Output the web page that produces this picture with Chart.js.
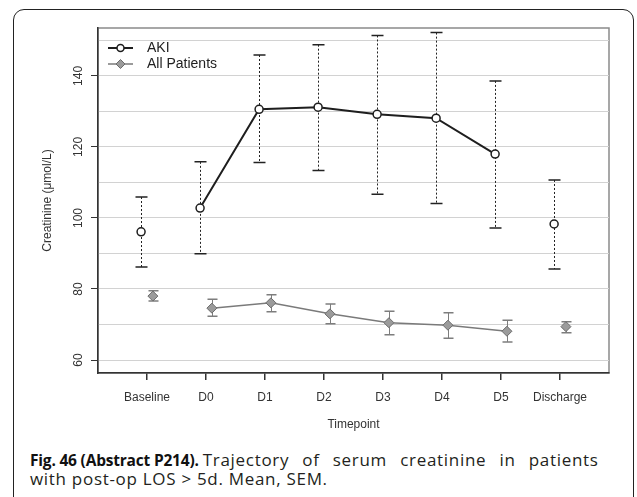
<!DOCTYPE html>
<html>
<head>
<meta charset="utf-8">
<title>Serum creatinine trajectory</title>
<script src="https://cdn.jsdelivr.net/npm/chart.js@4.4.1/dist/chart.umd.min.js"></script>
<style>
  html, body { margin: 0; padding: 0; background: #fff; }
  body { width: 637px; height: 497px; position: relative; overflow: hidden; }
  #frame { position: absolute; left: 13px; top: 9px; width: 619px; height: 540px;
           border: 1.5px solid #222; border-radius: 11px; }
  #chart { position: absolute; left: 0; top: 0; }
  #caption { position: absolute; left: 30px; top: 451px; font-family: 'Open Sans', sans-serif;
             font-size: 15.5px; line-height: 17.5px; color: #231f20; white-space: nowrap; }
  #caption b { font-weight: 700; color: #111; letter-spacing: -0.2px; }
  #caption .r { font-size: 17px; letter-spacing: 0.7px; }
  #caption .l1 { word-spacing: 8px; }
</style>
</head>
<body>
<div id="frame"></div>
<canvas id="chart" width="637" height="440"></canvas>
<div id="caption">
  <div><b>Fig. 46 (Abstract P214).</b> <span class="r l1">Trajectory of serum creatinine in patients</span></div>
  <div><span class="r">with post-op LOS &gt; 5d. Mean, SEM.</span></div>
</div>

<script>
// chart.js
// Creatinine (umol/L) per timepoint, mean +/- SEM, AKI vs all patients.

// ---- data ----
const xLabels = ['Baseline', 'D0', 'D1', 'D2', 'D3', 'D4', 'D5', 'Discharge'];

const akiMean  = [96.1, 102.8, 130.6, 131.2, 129.2, 128.1, 118.0, 98.3];
const akiHigh  = [105.9, 115.8, 145.9, 148.8, 151.4, 152.2, 138.6, 110.7];
const akiLow   = [86.2, 89.9, 115.6, 113.4, 106.7, 104.1, 97.2, 85.6];

const allMean  = [78.0, 74.6, 76.1, 73.0, 70.5, 69.8, 68.1, 69.4];
const allHigh  = [79.5, 77.1, 78.4, 75.8, 73.7, 73.3, 71.2, 70.8];
const allLow   = [76.6, 72.3, 73.6, 70.2, 67.1, 66.1, 65.1, 67.7];

const yGridValues  = [60, 70, 80, 90, 100, 110, 120, 130, 140, 150];
const yLabelValues = [60, 80, 100, 120, 140];

// series are dodged a little either side of each timepoint
const dodge = 0.1;

const FONT = "'Liberation Sans', Arial, sans-serif";

function points(values, shift) {
  return values.map((v, i) => ({ x: i + 1 + shift, y: v }));
}

// only D0..D5 are joined; Baseline and Discharge stand alone
const hideEnds = {
  borderColor: ctx => (ctx.p0DataIndex === 0 || ctx.p1DataIndex === xLabels.length - 1)
    ? 'rgba(0,0,0,0)' : undefined
};

// error bars drawn under the markers
const errorBars = {
  id: 'errorBars',
  beforeDatasetsDraw(chart) {
    const { ctx, scales: { x, y } } = chart;
    chart.data.datasets.forEach(ds => {
      const eb = ds.errorBar;
      ctx.save();
      ctx.strokeStyle = eb.color;
      ds.data.forEach((p, i) => {
        const px = Math.round(x.getPixelForValue(p.x)) + 0.5;
        const top = y.getPixelForValue(eb.high[i]);
        const bot = y.getPixelForValue(eb.low[i]);
        ctx.lineWidth = eb.width;
        ctx.setLineDash(eb.dash);
        ctx.beginPath();
        ctx.moveTo(px, top);
        ctx.lineTo(px, bot);
        ctx.stroke();
        ctx.setLineDash([]);
        ctx.lineWidth = eb.capWidth;
        ctx.beginPath();
        ctx.moveTo(px - eb.cap / 2, top); ctx.lineTo(px + eb.cap / 2, top);
        ctx.moveTo(px - eb.cap / 2, bot); ctx.lineTo(px + eb.cap / 2, bot);
        ctx.stroke();
      });
      ctx.restore();
    });
  }
};

// R-style plot box: gray outline, the axes then draw the dark left/bottom edges
const plotBox = {
  id: 'plotBox',
  beforeDraw(chart) {
    const { ctx, chartArea: a } = chart;
    ctx.save();
    ctx.strokeStyle = '#8a8a8a';
    ctx.lineWidth = 1.5;
    ctx.strokeRect(a.left, a.top, a.right - a.left, a.bottom - a.top);
    ctx.restore();
  }
};

// legend inside the plot, top-left, with line + marker keys
const insetLegend = {
  id: 'insetLegend',
  afterDraw(chart, args, opts) {
    const { ctx, chartArea } = chart;
    ctx.save();
    ctx.font = opts.font;
    ctx.textBaseline = 'middle';
    chart.data.datasets.forEach((ds, i) => {
      const y = chartArea.top + opts.top + i * opts.rowHeight;
      const x0 = chartArea.left + opts.left;
      ctx.strokeStyle = ds.borderColor;
      ctx.lineWidth = ds.borderWidth;
      ctx.beginPath();
      ctx.moveTo(x0, y);
      ctx.lineTo(x0 + opts.lineLength, y);
      ctx.stroke();
      ctx.fillStyle = ds.pointBackgroundColor;
      ctx.strokeStyle = ds.pointBorderColor;
      ctx.lineWidth = ds.pointBorderWidth;
      Chart.helpers.drawPoint(ctx, {
        pointStyle: ds.pointStyle, radius: ds.pointRadius - 0.5, rotation: 0,
        borderWidth: ds.pointBorderWidth
      }, x0 + opts.lineLength / 2, y);
      ctx.fillStyle = opts.color;
      ctx.fillText(ds.label, x0 + opts.textOffset, y);
    });
    ctx.restore();
  }
};

const chart = new Chart(document.getElementById('chart'), {
  type: 'line',
  data: {
    datasets: [
      {
        label: 'AKI',
        data: points(akiMean, -dodge),
        borderColor: '#1e1e1e',
        borderWidth: 2,
        pointStyle: 'circle',
        pointRadius: 4,
        pointBackgroundColor: '#ffffff',
        pointBorderColor: '#1e1e1e',
        pointBorderWidth: 1.5,
        segment: hideEnds,
        errorBar: { high: akiHigh, low: akiLow, color: '#222', width: 1, dash: [2, 2], cap: 12, capWidth: 1.5 }
      },
      {
        label: 'All Patients',
        data: points(allMean, dodge),
        borderColor: '#7a7a7a',
        borderWidth: 1.5,
        pointStyle: 'rectRot',
        pointRadius: 5,
        pointBackgroundColor: '#9b9b9b',
        pointBorderColor: '#6c6c6c',
        pointBorderWidth: 1,
        segment: hideEnds,
        errorBar: { high: allHigh, low: allLow, color: '#7d7d7d', width: 1, dash: [], cap: 10, capWidth: 1.5 }
      }
    ]
  },
  options: {
    responsive: false,
    animation: false,
    layout: { padding: { left: 30, top: 28, right: 28, bottom: 0 } },
    scales: {
      x: {
        type: 'linear',
        min: 0.17,
        max: 8.83,
        afterBuildTicks: s => { s.ticks = xLabels.map((_, i) => ({ value: i + 1 })); },
        afterFit: s => { s.height = 67; },
        ticks: {
          autoSkip: false, maxRotation: 0, padding: 10,
          color: '#333', font: { family: FONT, size: 12 },
          callback: v => xLabels[v - 1]
        },
        grid: { drawOnChartArea: false, tickLength: 7, tickColor: '#333', lineWidth: 1.5 },
        border: { color: '#333', width: 1.5 },
        title: { display: true, text: 'Timepoint', color: '#333', font: { family: FONT, size: 12 }, padding: { bottom: 8 } }
      },
      y: {
        min: 56.34,
        max: 153.5,
        afterBuildTicks: s => { s.ticks = yGridValues.map(v => ({ value: v })); },
        afterFit: s => { s.width = 68; },
        ticks: {
          autoSkip: false, minRotation: 90, maxRotation: 90, crossAlign: 'center', padding: 2,
          color: '#333', font: { family: FONT, size: 12 },
          callback: v => yLabelValues.includes(v) ? String(v) : ''
        },
        grid: {
          color: '#d2d2d2', lineWidth: 1, tickLength: 7,
          tickColor: c => yLabelValues.includes(c.tick && c.tick.value) ? '#333' : 'rgba(0,0,0,0)'
        },
        border: { color: '#333', width: 1.5 },
        title: { display: true, text: 'Creatinine (\u03bcmol/L)', color: '#333', font: { family: FONT, size: 12 }, padding: { top: 10 } }
      }
    },
    plugins: {
      legend: { display: false },
      tooltip: { enabled: false },
      insetLegend: { font: '14px ' + FONT, color: '#222', top: 20, rowHeight: 16, left: 10, lineLength: 25, textOffset: 39 }
    }
  },
  plugins: [plotBox, errorBars, insetLegend]
});
</script>
</body>
</html>
